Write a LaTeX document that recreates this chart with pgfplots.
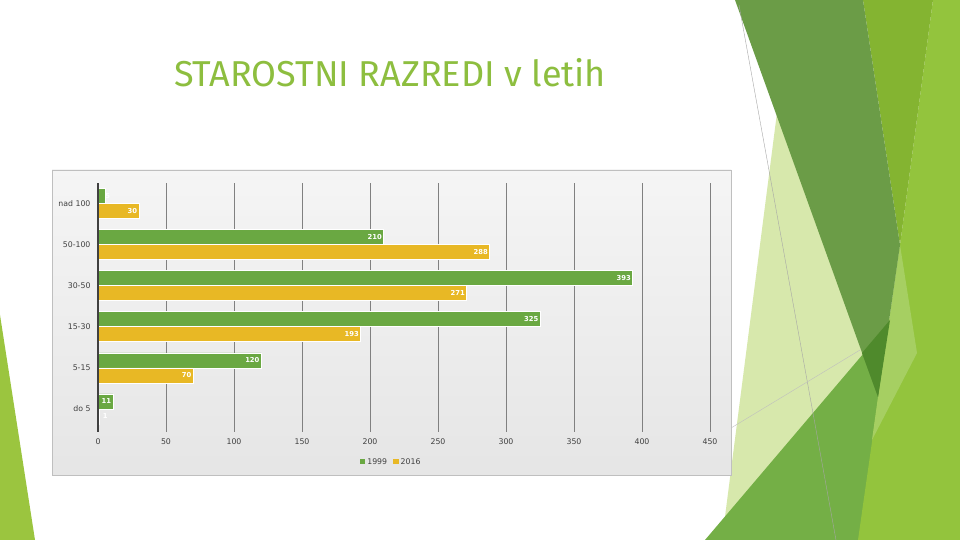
\documentclass[border=0pt]{standalone}
\usepackage{pgfplots}
\pgfplotsset{compat=1.18}
\usepackage{pgfplotstable}
\usepackage{fontspec}
\setmainfont{DejaVu Sans}
\newfontfamily\titlefont{Fira Sans}

\definecolor{bargreen}{HTML}{6AA842}
\definecolor{barorange}{HTML}{E8B825}
\definecolor{titlegreen}{HTML}{8DBE3F}
\definecolor{facetdark}{HTML}{6B9C47}
\definecolor{facetdeep}{HTML}{4F8A2C}
\definecolor{facetolive}{HTML}{84B431}
\definecolor{facetlight}{HTML}{93C43D}
\definecolor{facetsoft}{HTML}{A6CF62}
\definecolor{facetmid}{HTML}{74AF46}
\definecolor{facetpale}{HTML}{D7E8AC}
\definecolor{facetleft}{HTML}{9BC53F}
\definecolor{labelgray}{HTML}{404040}

% age classes, bottom to top; dx = label shift for bars too short to hold it
\pgfplotstableread{
pos y1999 y2016 dxa dxb
0   11    1     0   10
1   120   70    0   0
2   325   193   0   0
3   393   271   0   0
4   210   288   0   0
5   5     30    7   0
}\agedata

\begin{document}
\begin{tikzpicture}
\useasboundingbox (0,0) rectangle (960pt,540pt);
\fill[white] (0,0) rectangle (960pt,540pt);

% slide decoration, pixel coordinates from the top left
\begin{scope}[x=1pt,y=-1pt,yshift=540pt]
  \fill[facetleft] (0,315) -- (35,540) -- (0,540) -- cycle;
  \fill[facetpale] (778,105) -- (878,397) -- (765,540) -- (722,540) -- cycle;
  \fill[facetmid] (705,540) -- (960,240) -- (960,540) -- cycle;
  \fill[facetlight] (933,0) -- (960,0) -- (960,540) -- (858,540) -- (900,245) -- cycle;
  \fill[facetsoft] (900,245) -- (917,353) -- (872,440) -- (878,397) -- cycle;
  \fill[facetolive] (863,0) -- (933,0) -- (900,245) -- cycle;
  \fill[facetdark] (735,0) -- (863,0) -- (900,245) -- (878,397) -- cycle;
  \fill[facetdeep] (862,353) -- (890,320) -- (878,397) -- cycle;
  \draw[gray!70, line width=0.4pt] (739,5) -- (836,540);
  \draw[gray!50, line width=0.4pt] (731,428) -- (860,350);
  % chart area
  \shade[top color=black!4, bottom color=black!10] (52,170) rectangle (731,475);
  \draw[black!25, line width=0.8pt] (52,170) rectangle (731,475);
  \node[text=titlegreen, font=\titlefont\fontsize{36}{40}\selectfont] at (390,73) {STAROSTNI RAZREDI v letih};
\end{scope}

\begin{axis}[
    at={(98pt,108pt)}, anchor=south west,
    scale only axis,
    width=612pt, height=249pt,
    xbar,
    bar width=15pt,
    xmin=0, xmax=450,
    ymin=-0.56, ymax=5.49,
    xtick={0,50,...,450},
    ytick={0,...,5},
    yticklabels={do 5,5-15,15-30,30-50,50-100,nad 100},
    major tick length=0pt,
    xmajorgrids,
    grid style={black!50, line width=0.7pt},
    axis line style={draw=none},
    tick label style={font=\fontsize{7.8}{9}\selectfont, text=labelgray},
    /pgf/number format/assume math mode=true,
    xticklabel style={yshift=-3pt},
    yticklabel style={xshift=-4pt},
    point meta=x,
    nodes near coords,
    every node near coord/.append style={anchor=east, text=white,
      font=\bfseries\fontsize{6.8}{7}\selectfont, inner sep=1.5pt},
    legend style={at={(0.479,-0.12)}, anchor=center, draw=none, fill=none,
      legend columns=2, font=\fontsize{7.8}{9}\selectfont, text=labelgray,
      /tikz/every even column/.append style={column sep=4pt}},
    legend image code/.code={\fill[#1,draw=none] (0pt,-2.5pt) rectangle (5.5pt,2.5pt);},
    clip=false,
]
\addplot[fill=bargreen, draw=white, line width=0.5pt, bar shift=7.5pt,
  visualization depends on={\thisrow{dxa} \as \dx},
  every node near coord/.append style={xshift=\dx pt}]
  table[x=y1999, y=pos] {\agedata};
\addplot[fill=barorange, draw=white, line width=0.5pt, bar shift=-7.5pt,
  visualization depends on={\thisrow{dxb} \as \dx},
  every node near coord/.append style={xshift=\dx pt}]
  table[x=y2016, y=pos] {\agedata};
\legend{1999, 2016}
% value axis line, over the bar ends
\draw[labelgray, line width=2.6pt] (axis cs:0,-0.56) -- (axis cs:0,5.49);
\end{axis}
\end{tikzpicture}
\end{document}
